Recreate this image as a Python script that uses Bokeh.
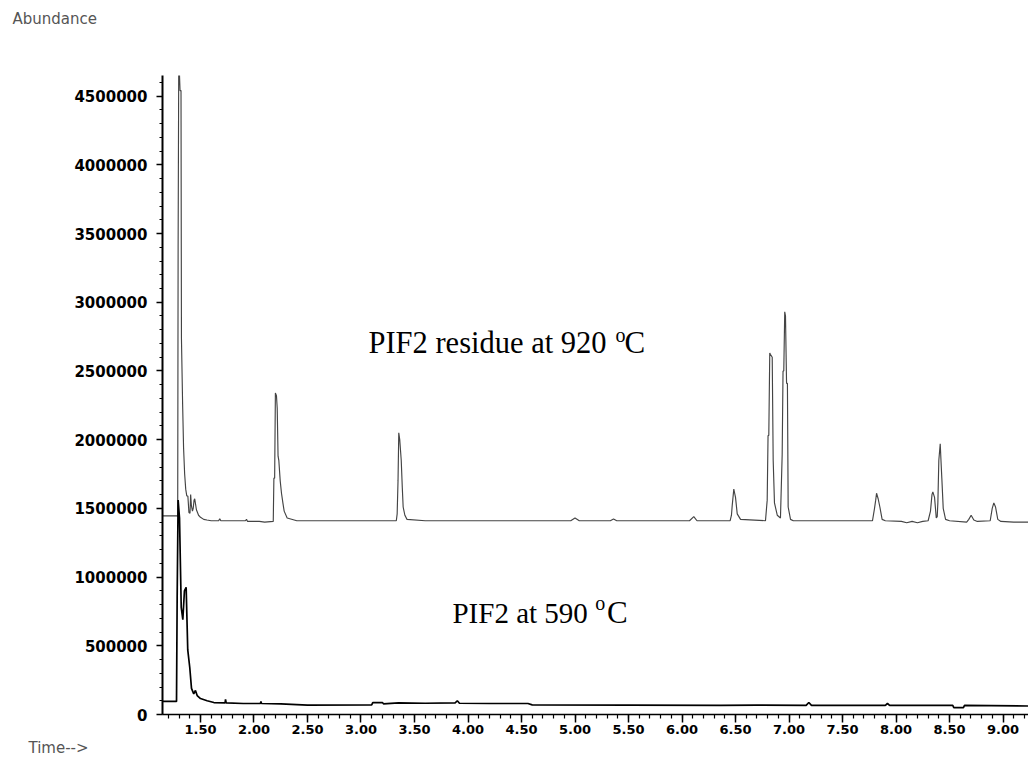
from bokeh.plotting import figure
from bokeh.models import Range1d, FixedTicker, Label, Title
from bokeh.embed import file_html
from bokeh.resources import INLINE

# ---- data (retention time in min, abundance) ----
# PIF2 residue at 920 C (upper trace)
t920 = [1.145, 1.280, 1.287, 1.291, 1.297, 1.309, 1.318, 1.322, 1.333, 1.342, 1.352, 1.362, 1.372,
        1.382, 1.392, 1.402, 1.408, 1.415, 1.425, 1.432, 1.440, 1.446, 1.452, 1.462, 1.472, 1.482, 1.500, 1.530, 1.560,
        1.600, 1.670, 1.680, 1.690, 1.800, 1.920, 1.930, 1.940, 2.050, 2.100, 2.180, 2.186, 2.193, 2.200, 2.210, 2.217,
        2.225, 2.232, 2.245, 2.257, 2.270, 2.282, 2.310, 2.400,
        3.000, 3.330, 3.338, 3.346, 3.353, 3.362, 3.376, 3.386, 3.394, 3.410, 3.430, 3.600, 4.960, 5.000, 5.040,
        5.330, 5.360, 5.390, 6.070, 6.110, 6.140,
        6.450, 6.462, 6.469, 6.484, 6.492, 6.500, 6.516, 6.547, 6.780, 6.796, 6.804, 6.811, 6.820, 6.827, 6.843,
        6.852, 6.864, 6.890, 6.920, 6.936, 6.944, 6.951, 6.960, 6.967, 6.977, 6.985, 6.992, 7.014, 7.040,
        7.780, 7.799, 7.810, 7.818, 7.833, 7.849, 7.870, 7.900, 8.050, 8.100, 8.150, 8.200, 8.250, 8.300,
        8.322, 8.336, 8.344, 8.360, 8.376, 8.385, 8.391, 8.400, 8.413, 8.420, 8.428, 8.441, 8.463, 8.500,
        8.660, 8.680, 8.702, 8.727, 8.760, 8.880, 8.899, 8.914, 8.930, 8.951, 8.980, 9.100, 9.238]
a920 = [1445000, 1445000, 1440000, 3410000, 4800000, 4540000, 4540000, 2740000, 2260000, 1940000, 1750000, 1640000, 1590000,
        1590000, 1470000, 1465000, 1600000, 1520000, 1480000, 1500000, 1560000, 1570000, 1540000, 1490000, 1470000, 1450000, 1435000, 1420000, 1415000,
        1410000, 1410000, 1425000, 1410000, 1410000, 1410000, 1420000, 1405000, 1405000, 1400000, 1405000, 1720000, 1720000, 2340000, 2320000, 2230000,
        1880000, 1850000, 1700000, 1610000, 1540000, 1480000, 1430000, 1410000,
        1410000, 1410000, 1460000, 1700000, 2050000, 2000000, 1850000, 1650000, 1510000, 1450000, 1420000, 1410000, 1410000, 1430000, 1410000,
        1410000, 1422000, 1410000, 1410000, 1440000, 1410000,
        1410000, 1450000, 1520000, 1640000, 1610000, 1580000, 1460000, 1420000, 1410000, 1560000, 2030000, 2030000, 2630000, 2620000, 2600000,
        1850000, 1540000, 1450000, 1430000, 1890000, 2500000, 2500000, 2930000, 2900000, 2410000, 2410000, 1510000, 1420000, 1410000,
        1410000, 1500000, 1560000, 1610000, 1570000, 1510000, 1420000, 1410000, 1405000, 1395000, 1405000, 1395000, 1405000, 1410000,
        1480000, 1600000, 1620000, 1580000, 1430000, 1440000, 1540000, 1850000, 1970000, 1850000, 1720000, 1500000, 1420000, 1410000,
        1400000, 1420000, 1450000, 1415000, 1405000, 1410000, 1500000, 1540000, 1510000, 1420000, 1405000, 1400000, 1400000]

# PIF2 at 590 C (lower trace)
t590 = [1.145, 1.276, 1.282, 1.291, 1.304, 1.320, 1.335, 1.350, 1.366, 1.381, 1.400, 1.416, 1.437, 1.453, 1.469,
        1.500, 1.562, 1.625, 1.730, 1.734, 1.740, 1.900, 2.060, 2.065, 2.070, 2.250, 2.500, 3.100, 3.110, 3.200,
        3.210, 3.350, 3.600, 3.880, 3.900, 3.920, 4.200, 4.560, 4.600, 5.500, 6.360, 6.700, 7.160, 7.185, 7.210,
        7.900, 7.920, 7.940, 8.530, 8.540, 8.630, 8.640, 9.238]
a590 = [95000, 95000, 850000, 1560000, 1430000, 780000, 690000, 900000, 925000, 470000, 340000, 190000, 150000, 175000, 138000,
        116000, 100000, 87000, 85000, 110000, 85000, 80000, 80000, 95000, 80000, 78000, 68000, 70000, 87000, 87000,
        78000, 85000, 82000, 85000, 100000, 82000, 80000, 80000, 70000, 68000, 66000, 68000, 66000, 87000, 66000,
        66000, 80000, 66000, 66000, 50000, 50000, 66000, 62000]

assert len(t920) == len(a920) and len(t590) == len(a590)

x_ticks = [1.5, 2.0, 2.5, 3.0, 3.5, 4.0, 4.5, 5.0, 5.5, 6.0, 6.5, 7.0, 7.5, 8.0, 8.5, 9.0]
x_tick_labels = ["1.50", "2.00", "2.50", "3.00", "3.50", "4.00", "4.50", "5.00", "5.50",
                 "6.00", "6.50", "7.00", "7.50", "8.00", "8.50", "9.00"]
y_ticks = [0, 500000, 1000000, 1500000, 2000000, 2500000, 3000000, 3500000, 4000000, 4500000]
y_tick_labels = ["0", "500000", "1000000", "1500000", "2000000", "2500000", "3000000",
                 "3500000", "4000000", "4500000"]

# ---- figure ----
p = figure(width=1028, height=759, output_backend="svg", toolbar_location=None,
           x_range=Range1d(1.145, 9.238), y_range=Range1d(0, 4650000),
           min_border_left=162, min_border_right=0, min_border_top=75, min_border_bottom=45)
p.outline_line_color = None
p.grid.visible = False
p.background_fill_color = "white"
p.border_fill_color = "white"

p.line(t920, a920, line_color="#444444", line_width=1.15)
p.line(t590, a590, line_color="black", line_width=1.7)

x_minor = [round(1.2 + 0.1 * i, 2) for i in range(81)]
y_minor = [100000 * i for i in range(47)]

p.xaxis.ticker = FixedTicker(ticks=x_ticks, minor_ticks=x_minor)
p.xaxis.major_label_overrides = {float(v): s for v, s in zip(x_ticks, x_tick_labels)}
p.yaxis.ticker = FixedTicker(ticks=y_ticks, minor_ticks=y_minor)
p.yaxis.major_label_overrides = {v: s for v, s in zip(y_ticks, y_tick_labels)}

for ax in (p.xaxis[0], p.yaxis[0]):
    ax.axis_line_color = "black"
    ax.major_tick_line_color = "black"
    ax.minor_tick_line_color = "black"
    ax.major_tick_in = 0
    ax.minor_tick_in = 0
    ax.major_label_text_color = "black"
    ax.major_label_text_font = "DejaVu Sans"
    ax.major_label_text_font_style = "bold"

p.xaxis.axis_line_width = 1.5
p.xaxis.major_tick_line_width = 1.5
p.xaxis.minor_tick_line_width = 1.2
p.xaxis.major_tick_out = 8
p.xaxis.minor_tick_out = 4
p.xaxis.major_label_standoff = 2
p.xaxis.major_label_text_font_size = "13px"

p.yaxis.axis_line_width = 2
p.yaxis.major_tick_line_width = 1.5
p.yaxis.minor_tick_line_width = 1.2
p.yaxis.major_tick_out = 6
p.yaxis.minor_tick_out = 3
p.yaxis.major_label_standoff = 9
p.yaxis.major_label_text_font_size = "15px"

serif = "Liberation Serif"
p.add_layout(Label(x=3.07, y=2707000, text="PIF2 residue at 920", text_font=serif,
                   text_font_size="30.5px", text_baseline="alphabetic", text_color="black"))
p.add_layout(Label(x=5.378, y=2758000, text="o", text_font=serif,
                   text_font_size="20px", text_baseline="alphabetic", text_color="black"))
p.add_layout(Label(x=5.463, y=2707000, text="C", text_font=serif,
                   text_font_size="31px", text_baseline="alphabetic", text_color="black"))

p.add_layout(Label(x=3.855, y=742000, text="PIF2 at 590", text_font=serif,
                   text_font_size="29px", text_baseline="alphabetic", text_color="black"))
p.add_layout(Label(x=5.19, y=815000, text="o", text_font=serif,
                   text_font_size="20px", text_baseline="alphabetic", text_color="black"))
p.add_layout(Label(x=5.30, y=742000, text="C", text_font=serif,
                   text_font_size="31px", text_baseline="alphabetic", text_color="black"))

# spacer between frame and the "Abundance" caption
p.add_layout(Title(text="\u00a0", align="left", standoff=10, text_font="DejaVu Sans",
                   text_font_size="31.5px", text_color="white"), "above")
p.add_layout(Title(text="Abundance", align="left", offset=-150, standoff=0,
                   text_font="DejaVu Sans", text_font_size="15px", text_font_style="normal",
                   text_color="#555555"), "above")
p.add_layout(Title(text="Time-->", align="left", offset=-134, standoff=0,
                   text_font="DejaVu Sans", text_font_size="15px", text_font_style="normal",
                   text_color="#555555"), "below")

open("out.html", "w").write(file_html(p, INLINE))
